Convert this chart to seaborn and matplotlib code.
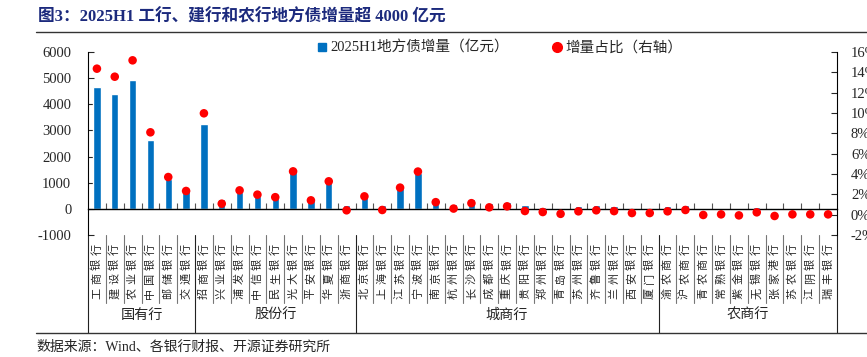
import matplotlib
matplotlib.use("Agg")
import matplotlib.pyplot as plt
import matplotlib.transforms as mtransforms
from matplotlib.lines import Line2D
from matplotlib.ticker import FuncFormatter, MultipleLocator, FixedLocator
import numpy as np
import pandas as pd
import seaborn as sns

# bank groups and names
GROUPS = ["国有行", "股份行", "城商行", "农商行"]
GROUP_BANKS = [
    ["工商银行", "建设银行", "农业银行", "中国银行", "邮储银行", "交通银行"],
    ["招商银行", "兴业银行", "浦发银行", "中信银行", "民生银行", "光大银行",
     "平安银行", "华夏银行", "浙商银行"],
    ["北京银行", "上海银行", "江苏银行", "宁波银行", "南京银行", "杭州银行",
     "长沙银行", "成都银行", "重庆银行", "贵阳银行", "郑州银行", "青岛银行",
     "苏州银行", "齐鲁银行", "兰州银行", "西安银行", "厦门银行"],
    ["渝农商行", "沪农商行", "青农商行", "常熟银行", "紫金银行", "无锡银行",
     "张家港行", "苏农银行", "江阴银行", "瑞丰银行"],
]

# 2025H1 local government bond increase (100 million yuan)
AMOUNT = [4660, 4410, 4940, 2650, 1150, 680,
          3260, 360, 640, 500, 400, 1420, 340, 1040, 130,
          440, 140, 780, 1390, 360, 200, 360, 230, 260, 130, 90, 40, 110, 150, 110, 50, 40,
          100, 150, 0, 0, 0, 60, 20, 0, 0, 0]

# share of increase (%), right axis
SHARE = [14.36, 13.57, 15.18, 8.10, 3.70, 2.33,
         9.97, 1.08, 2.39, 1.97, 1.72, 4.26, 1.41, 3.28, 0.43,
         1.80, 0.46, 2.66, 4.24, 1.23, 0.60, 1.13, 0.72, 0.82, 0.36, 0.26, 0.08, 0.33, 0.43, 0.35, 0.16, 0.16,
         0.33, 0.46, -0.03, 0.03, -0.07, 0.23, -0.13, 0.03, 0.03, 0.03]

BAR_COLOR = "#0070C0"
DOT_COLOR = "#FF0000"
TITLE_COLOR = "#1C2A7D"

banks = [b for g in GROUP_BANKS for b in g]
df = pd.DataFrame({
    "bank": banks,
    "amount": AMOUNT,
    "share": np.array(SHARE) / 100,
    "pos": np.arange(len(banks)),
})

sns.set_style("white")
plt.rcParams["font.family"] = ["Liberation Serif", "Noto Sans CJK SC"]
plt.rcParams["axes.unicode_minus"] = False

W, H = 867, 357
fig = plt.figure(figsize=(W / 100, H / 100), dpi=100)
ax = fig.add_axes([88 / W, 1 - 235 / H, (837 - 88) / W, 183 / H])
ax2 = ax.twinx()

sns.barplot(data=df, x="bank", y="amount", color=BAR_COLOR, width=0.42,
            saturation=1, ax=ax, zorder=2)
sns.scatterplot(data=df, x="pos", y="share", color=DOT_COLOR, s=38,
                edgecolor="none", ax=ax2, zorder=3, legend=False)

n = len(banks)
ax.set_xlim(-0.5, n - 0.5)
ax.set_ylim(-1000, 6000)
ax2.set_ylim(-0.02, 0.16)
ax.set_xlabel("")
ax.set_ylabel("")
ax2.set_xlabel("")
ax2.set_ylabel("")

# spines: bottom spine acts as zero line
for s in ["top", "right"]:
    ax.spines[s].set_visible(False)
for s in ["top", "left", "bottom"]:
    ax2.spines[s].set_visible(False)
ax.spines["bottom"].set_position(("data", 0))
ax.spines["bottom"].set_color("black")
ax.spines["bottom"].set_linewidth(1.0)
ax.spines["left"].set_color("black")
ax.spines["left"].set_linewidth(0.8)
ax2.spines["right"].set_color("black")
ax2.spines["right"].set_linewidth(0.8)

ax.yaxis.set_major_locator(MultipleLocator(1000))
ax2.yaxis.set_major_locator(MultipleLocator(0.02))
ax2.yaxis.set_major_formatter(FuncFormatter(lambda v, p: f"{int(round(v * 100))}%"))

ax.tick_params(axis="y", direction="in", length=4, width=0.8, pad=12,
               labelsize=10.5, left=True)
ax2.tick_params(axis="y", direction="in", length=4, width=0.8, pad=10,
                labelsize=10.5, right=True)
ax.xaxis.set_major_locator(FixedLocator([]))
ax.xaxis.set_minor_locator(FixedLocator(np.arange(n - 1) + 0.5))
ax.tick_params(axis="x", which="minor", direction="in", length=4, width=0.8,
               color="#555555", bottom=True)
ax.tick_params(axis="x", which="major", length=0, labelbottom=False)
ax2.tick_params(axis="x", length=0, labelbottom=False)

# category labels: rotated glyphs read bottom-to-top, spaced like the source
trans = mtransforms.blended_transform_factory(ax.transData, fig.transFigure)
fy = lambda ypx: 1 - ypx / H
for i, name in enumerate(banks):
    for j, ch in enumerate(name):
        ax.text(i, fy(293.5 - j * 14.7), ch, transform=trans, ha="center",
                va="center", rotation=90, fontsize=8,
                family="Noto Sans CJK SC")

group_edges = np.cumsum([len(g) for g in GROUP_BANKS])
for k in range(n + 1):
    x = k - 0.5
    long_line = k == 0 or k in group_edges
    y_end = 333 if long_line else 303
    ax.add_line(Line2D([x, x], [fy(235), fy(y_end)], transform=trans,
                       color="#222222" if long_line else "#777777",
                       lw=0.8, clip_on=False))

start = 0
for g, members in zip(GROUPS, GROUP_BANKS):
    center = start + (len(members) - 1) / 2
    ax.text(center, fy(315), g, transform=trans, ha="center", va="center",
            fontsize=10.2, family="Noto Sans CJK SC")
    start += len(members)

# legend
handles = [
    Line2D([], [], marker="s", linestyle="none", color=BAR_COLOR, markersize=6),
    Line2D([], [], marker="o", linestyle="none", color=DOT_COLOR, markersize=7),
]
fig.legend(handles, ["2025H1地方债增量（亿元）", "增量占比（右轴）"],
           loc="center", bbox_to_anchor=(500 / W, fy(48)), ncol=2,
           frameon=False, fontsize=10.5, handlelength=0.6, handletextpad=0.3,
           columnspacing=3.0)

# title, rules and source note
fig.text(38 / W, fy(17), "图3：2025H1 工行、建行和农行地方债增量超 4000 亿元",
         ha="left", va="center", fontsize=12, fontweight="bold", color=TITLE_COLOR)
fig.add_artist(Line2D([36 / W, 1], [fy(31.5), fy(31.5)], transform=fig.transFigure,
                      color="#333333", lw=1.0))
fig.add_artist(Line2D([36 / W, 1], [fy(333), fy(333)], transform=fig.transFigure,
                      color="#333333", lw=1.0))
fig.text(36 / W, fy(347), "数据来源：Wind、各银行财报、开源证券研究所",
         ha="left", va="center", fontsize=10)

fig.savefig("out.png", dpi=100)
plt.close(fig)
